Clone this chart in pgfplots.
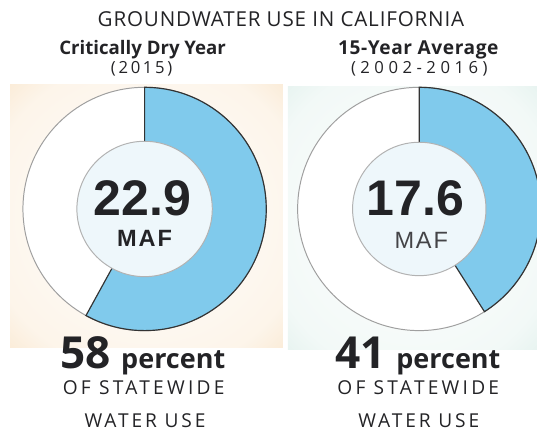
\documentclass[border=0pt]{standalone}
\usepackage{pgfplots}
\pgfplotsset{compat=1.18}
\usepackage{pgfplotstable}
\usepackage{fontspec}
\setmainfont{Open Sans}
\newfontfamily\arialfont{Liberation Sans}
\definecolor{wedge}{RGB}{128,202,236}
\definecolor{innerc}{RGB}{238,247,251}
\definecolor{glowL}{RGB}{247,220,184}
\definecolor{glowR}{RGB}{212,234,228}
\definecolor{txt}{RGB}{35,35,38}
\pgfdeclareradialshading{glowLsh}{\pgfpoint{0bp}{0bp}}{color(0bp)=(white); color(30bp)=(white!70!glowL); color(46bp)=(glowL); color(56bp)=(white!50!glowL); color(72bp)=(white)}
\pgfdeclareradialshading{glowRsh}{\pgfpoint{0bp}{0bp}}{color(0bp)=(white); color(30bp)=(white!70!glowR); color(46bp)=(glowR); color(56bp)=(white!50!glowR); color(72bp)=(white)}
\begin{document}
\pgfplotstableread{
chart pct maf
0 58 22.9
1 41 17.6
}\datatable
\pgfplotstablegetelem{0}{pct}\of\datatable \xdef\pctA{\pgfplotsretval}
\pgfplotstablegetelem{1}{pct}\of\datatable \xdef\pctB{\pgfplotsretval}
\pgfplotstablegetelem{0}{maf}\of\datatable \xdef\mafA{\pgfplotsretval}
\pgfplotstablegetelem{1}{maf}\of\datatable \xdef\mafB{\pgfplotsretval}
\begin{tikzpicture}
\begin{axis}[at={(0pt,0pt)}, anchor=south west, x=1pt, y=1pt,
  xmin=0, xmax=537, ymin=0, ymax=440, hide axis, clip=true]
% background glows
\shade[shading=glowLsh] (axis cs:0,86) rectangle (axis cs:278,354);
\shade[shading=glowRsh] (axis cs:283,84) rectangle (axis cs:537,352);
% left donut
\fill[white] (axis cs:137,227) circle[radius=124pt];
\draw[gray!75, line width=1pt] (axis cs:137,227) circle[radius=124pt];
\fill[wedge] (axis cs:137,227) -- ++(90:124pt) arc[start angle=90, end angle={90-3.6*\pctA}, radius=124pt] -- cycle;
\draw[black!80, line width=1.2pt] (axis cs:137,227) -- ++(90:124pt) arc[start angle=90, end angle={90-3.6*\pctA}, radius=124pt] -- cycle;
\filldraw[fill=innerc, draw=gray!60, line width=1pt] (axis cs:137,227) circle[radius=69pt];
% right donut
\fill[white] (axis cs:417,227) circle[radius=124pt];
\draw[gray!75, line width=1pt] (axis cs:417,227) circle[radius=124pt];
\fill[wedge] (axis cs:417,227) -- ++(90:124pt) arc[start angle=90, end angle={90-3.6*\pctB}, radius=124pt] -- cycle;
\draw[black!80, line width=1.2pt] (axis cs:417,227) -- ++(90:124pt) arc[start angle=90, end angle={90-3.6*\pctB}, radius=124pt] -- cycle;
\filldraw[fill=innerc, draw=gray!60, line width=1pt] (axis cs:417,227) circle[radius=68pt];
% center labels
\node[txt, anchor=base, inner sep=0pt, font=\arialfont\bfseries\fontsize{51}{51}\selectfont] at (axis cs:135,220) {\mafA};
\node[txt, anchor=base, inner sep=0pt, font=\arialfont\bfseries\fontsize{24}{24}\selectfont\addfontfeature{LetterSpace=8}] at (axis cs:137,189) {MAF};
\node[txt, anchor=base, inner sep=0pt, font=\arialfont\bfseries\fontsize{51}{51}\selectfont] at (axis cs:413,220) {\mafB};
\node[txt!85, anchor=base, inner sep=0pt, font=\arialfont\fontsize{24}{24}\selectfont\addfontfeature{LetterSpace=8}] at (axis cs:419,187) {MAF};
% titles
\node[txt, anchor=base, inner sep=0pt, font=\fontsize{21}{21}\selectfont\addfontfeature{LetterSpace=4}] at (axis cs:276,413) {GROUNDWATER USE IN CALIFORNIA};
\node[txt, anchor=base, inner sep=0pt, font=\bfseries\fontsize{19}{19}\selectfont] at (axis cs:135,384) {Critically Dry Year};
\node[txt, anchor=base, inner sep=0pt, font=\fontsize{17}{17}\selectfont\addfontfeature{LetterSpace=16}] at (axis cs:134,365) {(2015)};
\node[txt, anchor=base, inner sep=0pt, font=\bfseries\fontsize{19.5}{19.5}\selectfont\addfontfeature{LetterSpace=3}] at (axis cs:416,384) {15-Year Average};
\node[txt, anchor=base, inner sep=0pt, font=\fontsize{17}{17}\selectfont\addfontfeature{LetterSpace=27}] at (axis cs:417,365) {(2002-2016)};
% bottom labels
\node[txt, anchor=base, inner sep=0pt, font=\bfseries\fontsize{27.5}{27.5}\selectfont] at (axis cs:135,64) {{\fontsize{45}{45}\selectfont \pctA}\hspace{11pt}percent};
\node[txt, anchor=base, inner sep=0pt, font=\fontsize{19.5}{19.5}\selectfont\addfontfeature{LetterSpace=17}] at (axis cs:136,38) {OF STATEWIDE};
\node[txt, anchor=base, inner sep=0pt, font=\fontsize{19.5}{19.5}\selectfont\addfontfeature{LetterSpace=15}] at (axis cs:137.5,4) {WATER USE};
\node[txt, anchor=base, inner sep=0pt, font=\bfseries\fontsize{27.5}{27.5}\selectfont] at (axis cs:415.5,64) {{\fontsize{45}{45}\selectfont \pctB}\hspace{11pt}percent};
\node[txt, anchor=base, inner sep=0pt, font=\fontsize{19.5}{19.5}\selectfont\addfontfeature{LetterSpace=17}] at (axis cs:416,38) {OF STATEWIDE};
\node[txt, anchor=base, inner sep=0pt, font=\fontsize{19.5}{19.5}\selectfont\addfontfeature{LetterSpace=15}] at (axis cs:416.5,4) {WATER USE};
\end{axis}
\pgfresetboundingbox
\path[use as bounding box] (current axis.south west) rectangle (current axis.north east);
\end{tikzpicture}
\end{document}
